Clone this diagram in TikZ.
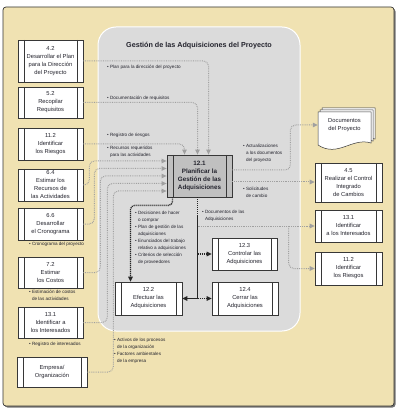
\documentclass[tikz,border=0pt]{standalone}
\usepackage{fontspec}
\setmainfont{Liberation Sans}
\usepackage{tikz}
\usetikzlibrary{arrows.meta}
\definecolor{framebeige}{RGB}{240,226,178}
\definecolor{panelgray}{RGB}{219,219,219}
\definecolor{planfill}{RGB}{192,192,192}
\definecolor{flowgray}{RGB}{160,160,160}
\definecolor{boxline}{RGB}{55,55,55}
\definecolor{textdark}{RGB}{35,35,45}

\begin{document}
\begin{tikzpicture}[x=1pt, y=-1pt,
proc/.style={draw=boxline, line width=0.6pt, fill=white, text=textdark,
  minimum width=65pt, minimum height=32pt, inner sep=0pt, align=center,
  font=\fontsize{5.8}{8}\selectfont,
  path picture={
    \draw[boxline, line width=0.6pt] ([xshift=6pt]path picture bounding box.north west) -- ([xshift=6pt]path picture bounding box.south west);
    \draw[boxline, line width=0.6pt] ([xshift=-6pt]path picture bounding box.north east) -- ([xshift=-6pt]path picture bounding box.south east);
  }},
plan/.style={proc, fill=planfill, line width=0.8pt, minimum height=42pt,
  font=\bfseries\fontsize{6.3}{7.7}\selectfont},
lbl/.style={anchor=north west, inner sep=0pt, align=left, text=textdark,
  font=\fontsize{4.6}{7}\selectfont},
inflow/.style={flowgray, line width=1pt, dash pattern=on 0.8pt off 1pt,
  rounded corners=5pt, -{Triangle[length=5pt,width=4.5pt]}},
ctrl/.style={black!85, line width=1.3pt, dash pattern=on 1.1pt off 0.9pt,
  rounded corners=4pt, -{Triangle[length=5pt,width=4.5pt]}},
]
\useasboundingbox (0,0) rectangle (401,411);

\fill[black!55, rounded corners=3pt] (4.5,8.5) rectangle (395.5,407.5);
\filldraw[fill=framebeige, draw=black!80, line width=0.7pt, rounded corners=3pt] (3,7) rectangle (394,406);
\filldraw[fill=panelgray, draw=white, line width=1pt, rounded corners=18pt] (98,27) rectangle (300,331);

\node[font=\bfseries\fontsize{7.2}{9}\selectfont, text=textdark] (title) at (199,46) {Gestión de las Adquisiciones del Proyecto};

\node[proc, minimum height=42pt] (p42) at (50.5,61) {4.2\\Desarrollar el Plan\\para la Dirección\\del Proyecto};
\node[proc, minimum height=31pt] (p52) at (50.5,102.5) {5.2\\Recopilar\\Requisitos};
\node[proc] (p112) at (50.5,144) {11.2\\Identificar\\los Riesgos};
\node[proc] (p64) at (50.5,185) {6.4\\Estimar los\\Recursos de\\las Actividades};
\node[proc] (p66) at (50.5,224) {6.6\\Desarrollar\\el Cronograma};
\node[proc, minimum height=31pt] (p72) at (50.5,272.5) {7.2\\Estimar\\los Costos};
\node[proc, minimum height=31pt] (p131) at (50.5,322.5) {13.1\\Identificar a\\los Interesados};
\node[proc, minimum width=70pt, minimum height=30pt] (pemp) at (52,372) {Empresa/\\Organización};

\node[plan] (p121) at (199.5,176) {12.1\\Planificar la\\Gestión de las\\Adquisiciones};
\node[proc, minimum width=67pt, minimum height=33pt] (p122) at (148.5,298.5) {12.2\\Efectuar las\\Adquisiciones};
\node[proc] (p123) at (244.5,254) {12.3\\Controlar las\\Adquisiciones};
\node[proc, minimum width=66pt, minimum height=33pt] (p124) at (245,298.5) {12.4\\Cerrar las\\Adquisiciones};

\node[proc, minimum width=67pt, minimum height=39pt] (p45) at (348.5,182.5) {4.5\\Realizar el Control\\Integrado\\de Cambios};
\node[proc, minimum width=67pt] (p131r) at (348.5,226) {13.1\\Identificar\\a los Interesados};
\node[proc, minimum width=67pt, minimum height=33pt] (p112r) at (348.5,268.5) {11.2\\Identificar\\los Riesgos};

\foreach \d in {4,2,0}
  \filldraw[fill=white, draw=boxline, line width=0.5pt] (318+\d,112-\d) -- (371+\d,112-\d) -- (371+\d,143-\d)
    .. controls (352+\d,137-\d) and (338+\d,158-\d) .. (318+\d,145-\d) -- cycle;
\node[align=center, inner sep=0pt, minimum width=53pt, minimum height=26pt, text=textdark,
  font=\fontsize{5.8}{8}\selectfont] (docs) at (344.5,125) {Documentos\\del Proyecto};

\node[lbl] (lplan) at (107,65) {• Plan para la dirección del proyecto};
\node[lbl] (lreq) at (107,96) {• Documentación de requisitos};
\node[lbl] (lrisk) at (107,133) {• Registro de riesgos};
\node[lbl] (lres) at (107,146) {• Recursos requeridos\\\phantom{• }para las actividades};
\node[lbl] (lsched) at (29,242) {• Cronograma del proyecto};
\node[lbl] (lcost) at (29,290) {• Estimación de costos\\\phantom{• }de las actividades};
\node[lbl] (lstake) at (29,342) {• Registro de interesados};
\node[lbl] (lenv) at (114,338) {• Activos de los procesos\\\phantom{• }de la organización\\• Factores ambientales\\\phantom{• }de la empresa};
\node[lbl] (lupd) at (243,144) {• Actualizaciones\\\phantom{• }a los documentos\\\phantom{• }del proyecto};
\node[lbl] (lchg) at (243,187) {• Solicitudes\\\phantom{• }de cambio};
\node[lbl] (lproc) at (202,210) {• Documentos de las\\\phantom{• }Adquisiciones};
\node[lbl] (lout) at (135,211) {• Decisiones de hacer\\\phantom{• }o comprar\\• Plan de gestión de las\\\phantom{• }adquisiciones\\• Enunciados del trabajo\\\phantom{• }relativo a adquisiciones\\• Criterios de selección\\\phantom{• }de proveedores};

\draw[inflow] (p42.east) -| ([xshift=9pt]p121.north);
\draw[inflow] (p52.east) -| ([xshift=-2pt]p121.north);
\draw[inflow] (p112.east) -| ([xshift=-15pt]p121.north);
\draw[inflow] (p64.east) -- ++(6,0) |- ([yshift=15pt]p121.west);
\draw[inflow] (p66.east) -- ++(11,0) |- ([yshift=7.5pt]p121.west);
\draw[inflow] (p72.east) -- ++(17,0) |- (p121.west);
\draw[inflow] (p131.east) -- ++(24,0) |- ([yshift=-7.5pt]p121.west);
\draw[inflow] (pemp.east) -- ++(26,0) |- ([yshift=-15pt]p121.west);

\draw[inflow] ([yshift=6pt]p121.east) -- ++(58,0) |- (docs.west);
\draw[inflow] ([yshift=-6pt]p121.east) -- ([yshift=-6pt]p121.east -| p45.west);

\coordinate (acq) at ([xshift=-2pt]p121.south |- p131r.west);
\coordinate (fork) at ([xshift=-2pt]p121.south |- p122.east);
\draw[inflow] (acq) -- (p131r.west);
\draw[inflow] ([xshift=-26pt]p131r.west) |- (p112r.west);

\draw[ctrl] ([xshift=-27pt]p121.south) -- ++(0,8) -| ([xshift=-18pt]p122.north);
\draw[ctrl, -] ([xshift=-2pt]p121.south) -- (fork);
\draw[ctrl] ([xshift=-2pt]p121.south |- p123.west) -- (p123.west);
\draw[ctrl] (fork) -- (p122.east);
\draw[ctrl] (fork) -- (p124.west);
\end{tikzpicture}
\end{document}
